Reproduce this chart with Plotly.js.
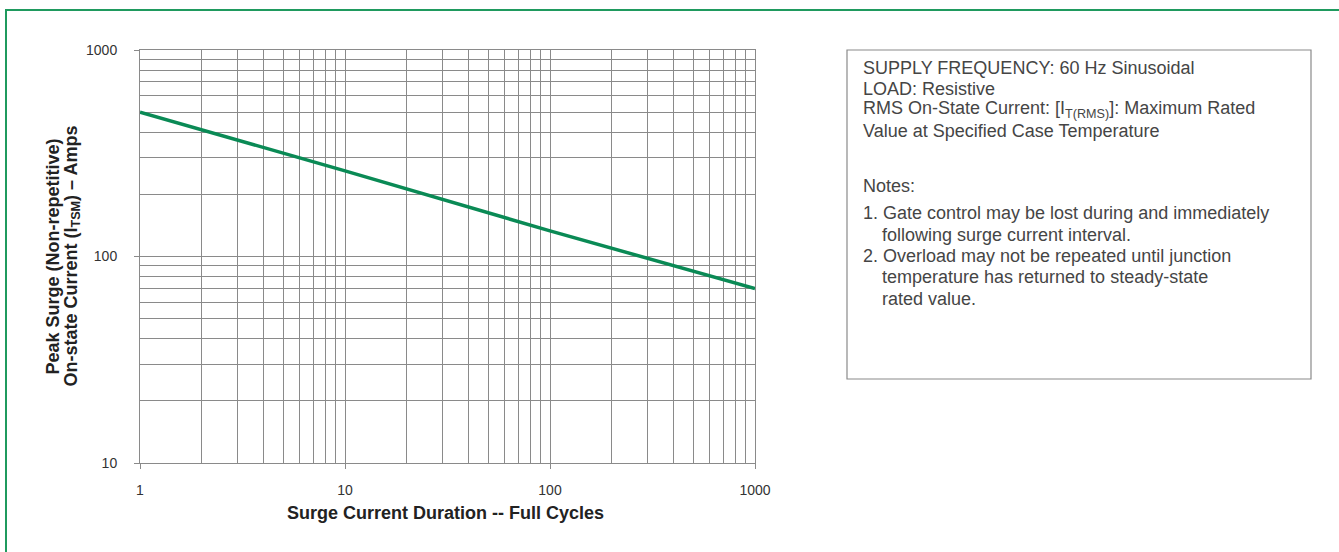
<!DOCTYPE html>
<html>
<head>
<meta charset="utf-8">
<script src="https://cdn.plot.ly/plotly-3.0.1.min.js"></script>
<style>html,body{margin:0;padding:0;background:#fff;}#chart{width:1339px;height:552px;}</style>
</head>
<body>
<div id="chart"></div>
<script>
// Data
var cycles = [1, 10, 100, 1000];
var surgeCurrent = [500, 260, 133, 70];

var xMajorTicks = [1, 10, 100, 1000];
var xTickLabels = ["1", "10", "100", "1000"];
var xMinorTicks = [2,3,4,5,6,7,8,9,20,30,40,50,60,70,80,90,200,300,400,500,600,700,800,900];
var yMajorTicks = [10, 100, 1000];
var yTickLabels = ["10", "100", "1000"];
var yMinorTicks = [20,30,40,50,60,70,80,90,200,300,400,500,600,700,800,900];

var xTitle = "Surge Current Duration -- Full Cycles";
var yTitleLines = ["Peak Surge (Non-repetitive)", "On-state Current (I<sub>TSM</sub>) – Amps"];
var noteLines = [
  "SUPPLY FREQUENCY: 60 Hz Sinusoidal",
  "LOAD: Resistive",
  "RMS On-State Current: [I<sub>T(RMS)</sub>]: Maximum Rated",
  "Value at Specified Case Temperature",
  "Notes:",
  "1. Gate control may be lost during and immediately",
  "following surge current interval.",
  "2. Overload may not be repeated until junction",
  "temperature has returned to steady-state",
  "rated value."
];
var noteY = [68, 89, 110, 131, 186, 213, 235, 256, 277, 299];
var noteX = [861, 861, 861, 861, 861, 861, 880, 861, 880, 880];

// layout geometry
var W = 1339, H = 552, L = 140, R = 755, T = 50, B = 463;
function px(x){ return (x - L) / (R - L); }
function py(y){ return (B - y) / (B - T); }

var FONT = "Liberation Sans, Arial, Helvetica, sans-serif";
var gridCol = "#8a8a8a";

var annotations = noteLines.map(function(t, i){
  return {
    xref: "paper", yref: "paper",
    x: px(noteX[i]), y: py(noteY[i]),
    xanchor: "left", yanchor: "middle",
    text: t, showarrow: false, align: "left",
    font: {family: FONT, size: 18, color: "#454545"}
  };
});
var yTitleX = [52, 72];
yTitleLines.forEach(function(t, i){
  annotations.push({
    xref: "paper", yref: "paper", x: px(yTitleX[i]), y: 0.5,
    xanchor: "center", yanchor: "middle", textangle: -90,
    text: t, showarrow: false, align: "center",
    font: {family: FONT, size: 18, color: "#222", weight: "bold"}
  });
});
annotations.push({
  xref: "paper", yref: "paper", x: px(445), y: py(513),
  xanchor: "center", yanchor: "middle",
  text: xTitle, showarrow: false,
  font: {family: FONT, size: 18, color: "#222", weight: "bold"}
});

var data = [{
  x: cycles, y: surgeCurrent, type: "scatter", mode: "lines",
  line: {color: "#0a8a55", width: 3.5}, hoverinfo: "x+y"
}];

var layout = {
  width: W, height: H,
  margin: {l: L, r: W - R, t: T, b: H - B, pad: 0},
  paper_bgcolor: "#fff", plot_bgcolor: "#fff",
  showlegend: false,
  xaxis: {
    type: "log", range: [0, 3], tickmode: "array",
    tickvals: xMajorTicks, ticktext: xTickLabels,
    ticks: "outside", ticklen: 5, tickcolor: gridCol, ticklabelstandoff: 9,
    showgrid: true, gridcolor: gridCol, gridwidth: 1,
    minor: {tickmode: "array", tickvals: xMinorTicks, showgrid: true, gridcolor: gridCol, gridwidth: 1, ticks: ""},
    showline: true, linecolor: gridCol, linewidth: 1, mirror: true,
    zeroline: false,
    tickfont: {family: FONT, size: 14, color: "#333"}
  },
  yaxis: {
    type: "log", range: [1, 3], tickmode: "array",
    tickvals: yMajorTicks, ticktext: yTickLabels,
    ticks: "outside", ticklen: 5, tickcolor: gridCol, ticklabelstandoff: 14,
    showgrid: true, gridcolor: gridCol, gridwidth: 1,
    minor: {tickmode: "array", tickvals: yMinorTicks, showgrid: true, gridcolor: gridCol, gridwidth: 1, ticks: ""},
    showline: true, linecolor: gridCol, linewidth: 1, mirror: true,
    zeroline: false,
    tickfont: {family: FONT, size: 14, color: "#333"}
  },
  shapes: [
    {type: "rect", xref: "paper", yref: "paper",
     x0: px(847), x1: px(1311), y0: py(379), y1: py(50),
     line: {color: "#8a8a8a", width: 1.2}, fillcolor: "rgba(0,0,0,0)", layer: "above"},
    {type: "rect", xref: "paper", yref: "paper",
     x0: px(6), x1: px(1400), y0: py(620), y1: py(10),
     line: {color: "#1f9a5e", width: 2}, fillcolor: "rgba(0,0,0,0)", layer: "above"}
  ],
  annotations: annotations
};

Plotly.newPlot("chart", data, layout, {displayModeBar: false, staticPlot: true});
</script>
</body>
</html>
